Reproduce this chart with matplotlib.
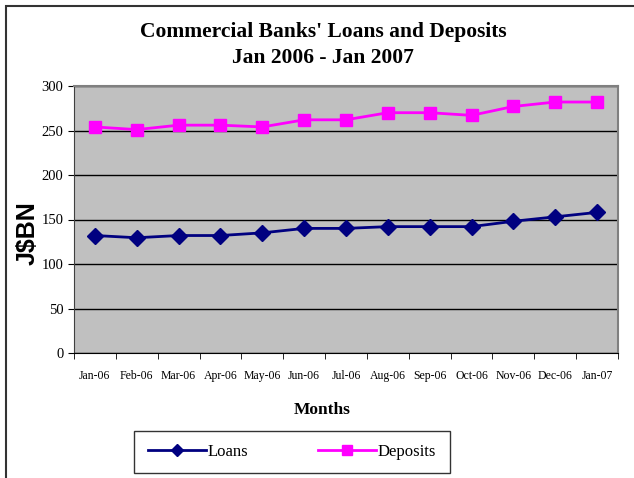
import matplotlib.pyplot as plt
from matplotlib.patches import Rectangle

months = ["Jan-06", "Feb-06", "Mar-06", "Apr-06", "May-06", "Jun-06", "Jul-06",
          "Aug-06", "Sep-06", "Oct-06", "Nov-06", "Dec-06", "Jan-07"]
loans = [132, 129.5, 132, 132, 135, 140, 140, 142, 142, 142, 148, 153, 158]
deposits = [254, 251, 256, 256, 254, 262, 262, 270, 270, 267, 277, 282, 282]

plt.rcParams['font.family'] = ['Liberation Serif', 'DejaVu Serif']

fig = plt.figure(figsize=(6.34, 4.78), dpi=100)
ax = fig.add_axes([74 / 634, 1 - 353 / 478, 544 / 634, 267 / 478])

ax.set_facecolor('#C0C0C0')
x = range(len(months))
ax.plot(x, loans, color='#000080', marker='D', markersize=8, linewidth=2, label='Loans')
ax.plot(x, deposits, color='#FF00FF', marker='s', markersize=9, linewidth=2, label='Deposits')

ax.set_xlim(-0.5, len(months) - 0.5)
ax.set_ylim(0, 300)
ax.set_yticks(range(0, 301, 50))
ax.yaxis.grid(True, color='black', linewidth=1)
ax.set_axisbelow(True)
ax.tick_params(axis='y', labelsize=10.5, direction='out', length=4, color='black')

ax.set_xticks(list(x))
ax.set_xticklabels(months, fontsize=8.5)
ax.set_xticks([i - 0.5 for i in range(len(months) + 1)], minor=True)
ax.tick_params(axis='x', which='major', length=0, pad=12)
ax.tick_params(axis='x', which='minor', length=4, direction='out', color='black')

for side in ['top', 'right']:
    ax.spines[side].set_color('#808080')
    ax.spines[side].set_linewidth(1.5)
ax.spines['left'].set_color('#404040')
ax.spines['bottom'].set_color('black')

fig.text(323 / 634, 1 - 32 / 478, "Commercial Banks' Loans and Deposits", ha='center', va='center',
         fontsize=15.5, fontweight='bold')
fig.text(323 / 634, 1 - 58 / 478, "Jan 2006 - Jan 2007", ha='center', va='center',
         fontsize=15.5, fontweight='bold')
fig.text(28 / 634, 1 - 233 / 478, "J$BN", rotation=90, ha='center', va='center',
         fontsize=18, fontweight='bold', family=['Liberation Sans', 'DejaVu Sans'])
fig.text(322 / 634, 1 - 410 / 478, "Months", ha='center', va='center',
         fontsize=12.5, fontweight='bold')

leg = fig.legend(loc='center', ncol=2, bbox_to_anchor=(126 / 634, 1 - 475 / 478, 332 / 634, 46 / 478),
                 mode='expand', frameon=True, fancybox=False, edgecolor='black', fontsize=12,
                 handlelength=3.5, handletextpad=0.1, borderpad=0.8, markerscale=0.8)
leg.get_frame().set_linewidth(1)

fig.add_artist(Rectangle((6 / 634, -0.1), 2, 1 - 6 / 478 + 0.1, transform=fig.transFigure,
                         fill=False, edgecolor='#333333', linewidth=1.5))

fig.savefig('out.png', dpi=100)
